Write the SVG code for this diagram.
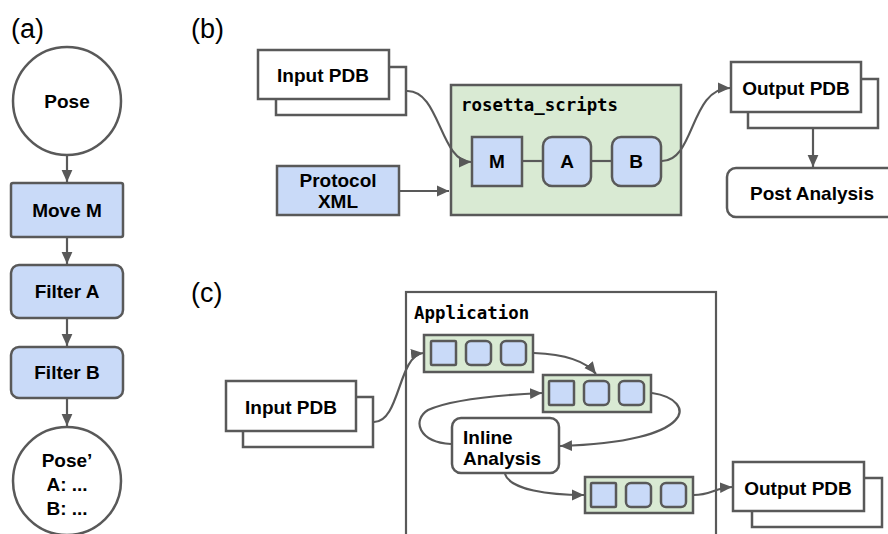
<svg xmlns="http://www.w3.org/2000/svg" width="888" height="534" viewBox="0 0 888 534">
<defs>
<marker id="ah" viewBox="0 0 10 10" refX="10" refY="5" markerWidth="12" markerHeight="12" markerUnits="userSpaceOnUse" orient="auto">
<path d="M0,0.5 L10,5 L0,9.5 Z" fill="#595959"/>
</marker>
<style>
.s{stroke:#595959;stroke-width:2.5;}
.w{fill:#fff;}
.b{fill:#c9daf8;}
.g{fill:#d9ead3;}
.c{fill:none;stroke:#595959;stroke-width:2.2;marker-end:url(#ah);}
.l{fill:none;stroke:#595959;stroke-width:2.2;}
.t{font-family:"Liberation Sans",Arial,sans-serif;font-weight:bold;font-size:19px;fill:#000;text-anchor:middle;}
.tl{font-family:"Liberation Sans",Arial,sans-serif;font-weight:bold;font-size:19px;fill:#000;}
.m{font-family:"DejaVu Sans Mono","Liberation Mono",monospace;font-weight:bold;font-size:17.4px;fill:#000;}
.p{font-family:"Liberation Sans",Arial,sans-serif;font-size:27px;fill:#000;}
</style>
</defs>
<rect width="888" height="534" fill="#fff"/>
<text class="p" x="11" y="38">(a)</text>
<text class="p" x="191" y="38">(b)</text>
<text class="p" x="191" y="302">(c)</text>

<g id="pose">
<circle class="s w" cx="67" cy="101" r="54"/>
<text class="t" x="67" y="108">Pose</text>
</g>
<g id="moveM">
<rect class="s b" x="11" y="183" width="112" height="54" rx="2"/>
<text class="t" x="67" y="217">Move M</text>
</g>
<g id="filterA">
<rect class="s b" x="11" y="265" width="112" height="53" rx="8"/>
<text class="t" x="67" y="298">Filter A</text>
</g>
<g id="filterB">
<rect class="s b" x="11" y="347" width="112" height="51" rx="8"/>
<text class="t" x="67" y="379">Filter B</text>
</g>
<g id="posePrime">
<circle class="s w" cx="67" cy="481" r="54"/>
<text class="t" x="67" y="467">Pose’</text>
<text class="t" x="67" y="491">A: ...</text>
<text class="t" x="67" y="515">B: ...</text>
</g>

<g id="inputPDB_b">
<rect class="s w" x="276" y="67" width="130" height="48"/>
<rect class="s w" x="258" y="50" width="131" height="49"/>
<text class="t" x="323" y="82">Input PDB</text>
</g>
<g id="protocolXML">
<rect class="s b" x="277" y="166" width="122" height="49"/>
<text class="t" x="338" y="187">Protocol</text>
<text class="t" x="338" y="208">XML</text>
</g>
<g id="rosetta">
<rect class="s g" x="451" y="85" width="230" height="130"/>
<text class="m" x="461" y="111">rosetta_scripts</text>
</g>
<g id="M">
<rect class="s b" x="472" y="137" width="50" height="49"/>
<text class="t" x="497" y="168">M</text>
</g>
<g id="A">
<rect class="s b" x="543" y="137" width="48" height="49" rx="9"/>
<text class="t" x="567" y="168">A</text>
</g>
<g id="B">
<rect class="s b" x="612" y="137" width="49" height="49" rx="9"/>
<text class="t" x="636" y="168">B</text>
</g>
<g id="outputPDB_b">
<rect class="s w" x="748" y="79" width="130" height="49"/>
<rect class="s w" x="731" y="62" width="130" height="50"/>
<text class="t" x="796" y="95">Output PDB</text>
</g>
<g id="postAnalysis">
<rect class="s w" x="727" y="168" width="170" height="49" rx="9"/>
<text class="t" x="812" y="200">Post Analysis</text>
</g>

<g id="application">
<rect class="l" x="406" y="292" width="310" height="260"/>
<text class="m" x="414" y="319">Application</text>
</g>
<g id="inputPDB_c">
<rect class="s w" x="243" y="397" width="130" height="50"/>
<rect class="s w" x="226" y="381" width="130" height="50"/>
<text class="t" x="291" y="414">Input PDB</text>
</g>
<g id="row1">
<rect class="s g" x="424" y="335" width="109" height="37"/>
<rect class="s b" x="431" y="341" width="25" height="24" rx="1"/>
<rect class="s b" x="466" y="341" width="25" height="24" rx="5"/>
<rect class="s b" x="501" y="341" width="25" height="24" rx="5"/>
</g>
<g id="row2">
<rect class="s g" x="543" y="375" width="108" height="37"/>
<rect class="s b" x="549" y="381" width="25" height="24" rx="1"/>
<rect class="s b" x="584" y="381" width="25" height="24" rx="5"/>
<rect class="s b" x="619" y="381" width="25" height="24" rx="5"/>
</g>
<g id="inlineAnalysis">
<rect class="s w" x="452" y="418" width="107" height="55" rx="9"/>
<text class="tl" x="463" y="444">Inline</text>
<text class="tl" x="463" y="465">Analysis</text>
</g>
<g id="row3">
<rect class="s g" x="585" y="477" width="108" height="36"/>
<rect class="s b" x="591" y="483" width="25" height="24" rx="1"/>
<rect class="s b" x="626" y="483" width="25" height="24" rx="5"/>
<rect class="s b" x="661" y="483" width="25" height="24" rx="5"/>
</g>
<g id="outputPDB_c">
<rect class="s w" x="752" y="478" width="130" height="49"/>
<rect class="s w" x="733" y="462" width="131" height="49"/>
<text class="t" x="798" y="495">Output PDB</text>
</g>

<g id="connectors">
<line class="c" x1="67" y1="155" x2="67" y2="182"/>
<line class="c" x1="67" y1="237" x2="67" y2="264"/>
<line class="c" x1="67" y1="318" x2="67" y2="346"/>
<line class="c" x1="67" y1="398" x2="67" y2="426"/>
<path class="c" d="M407,91 C440,90 440,162 471,162"/>
<line class="c" x1="399" y1="191" x2="449" y2="191"/>
<line class="l" x1="523" y1="161" x2="542" y2="161"/>
<line class="l" x1="592" y1="161" x2="611" y2="161"/>
<path class="c" d="M662,161 C695,161 690,88 730,88"/>
<line class="c" x1="813" y1="129" x2="813" y2="167"/>
<path class="c" d="M374,422 C400,422 398,356 423,353"/>
<path class="c" d="M534,353 C560,354 585,360 596,374"/>
<path class="c" d="M652,393 C698,400 698,442 560,446"/>
<path class="c" d="M451,444 C418,442 412,420 428,410 C450,400 500,395 542,393"/>
<path class="c" d="M505,474 C510,490 550,495 584,495"/>
<path class="c" d="M694,495 C710,495 715,488 732,487"/>
</g>
</svg>
